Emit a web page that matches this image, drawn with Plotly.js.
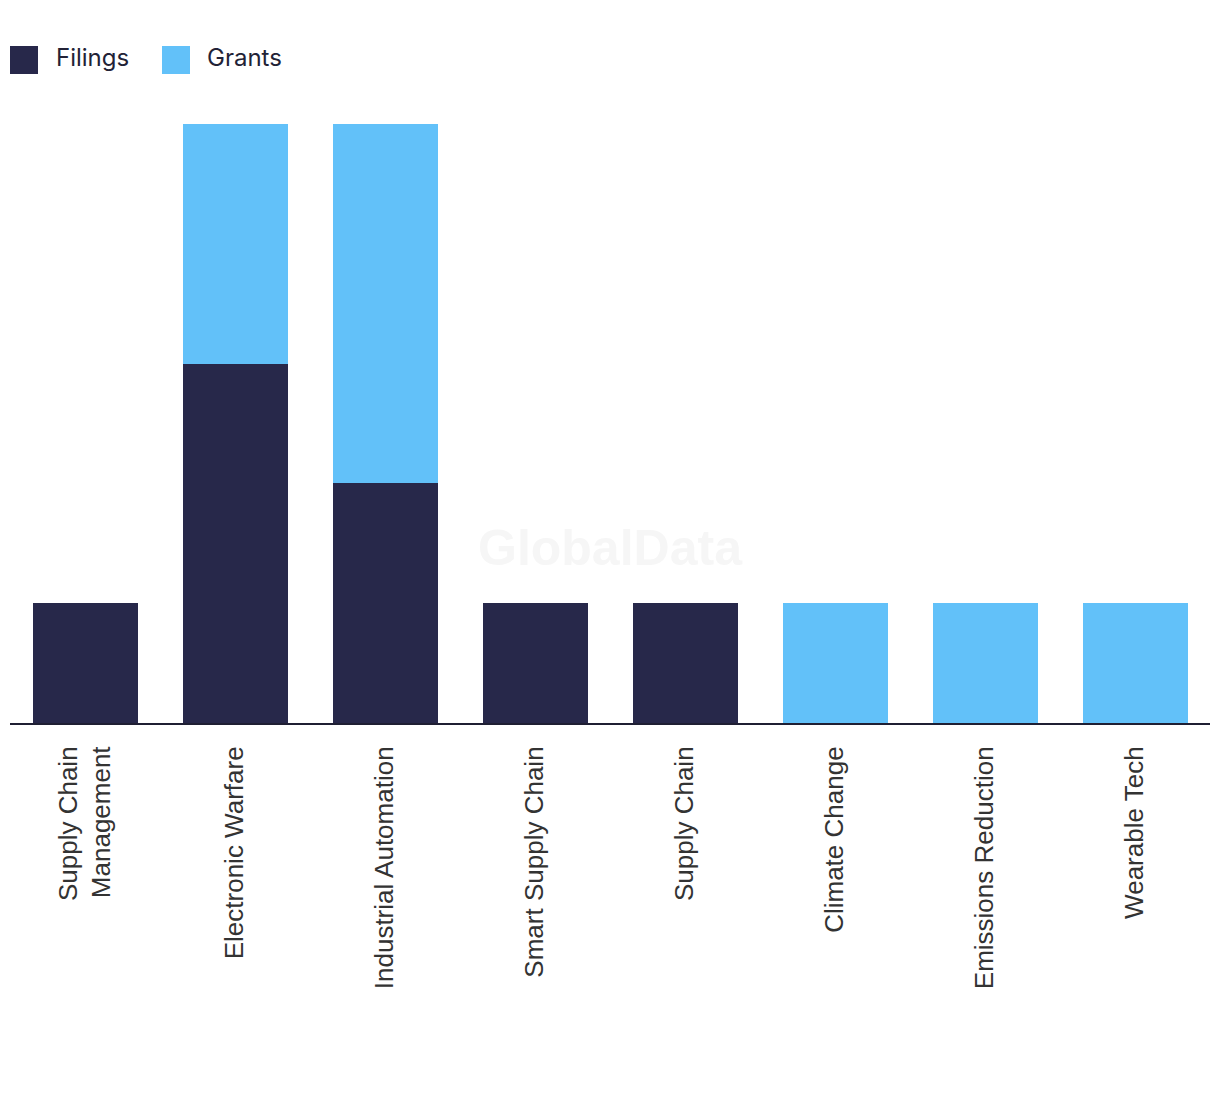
<!DOCTYPE html>
<html><head><meta charset="utf-8">
<script src="https://cdn.plot.ly/plotly-3.0.1.min.js"></script>
<style>body{margin:0;background:#fff}#chart{width:1220px;height:1094px}</style>
</head><body><div id="chart"></div>
<script>
const categories = ["Supply Chain<br>Management","Electronic Warfare","Industrial Automation","Smart Supply Chain","Supply Chain","Climate Change","Emissions Reduction","Wearable Tech"];
const filings = [1,3,2,1,1,0,0,0];
const grants = [0,2,3,0,0,1,1,1];
const seriesNames = ["Filings","Grants"];
const colors = ["#27284a","#62c1f9"];

const traces = [
  {type:"bar", name:seriesNames[0], x:categories, y:filings, marker:{color:colors[0]}, showlegend:false},
  {type:"bar", name:seriesNames[1], x:categories, y:grants, marker:{color:colors[1]}, showlegend:false}
];

const PH = 599, PW = 1200, BASE = 723;
const py = v => (BASE - v) / PH;
const legendShapes = [
  {type:"rect", xref:"paper", yref:"paper", x0:0, x1:28/PW, y0:py(46), y1:py(74), fillcolor:colors[0], line:{width:0}},
  {type:"rect", xref:"paper", yref:"paper", x0:152/PW, x1:180/PW, y0:py(46), y1:py(74), fillcolor:colors[1], line:{width:0}}
];

const layout = {
  width:1220, height:1094,
  margin:{l:10, r:10, t:124, b:371},
  paper_bgcolor:"#fff", plot_bgcolor:"#fff",
  barmode:"stack", bargap:0.3,
  showlegend:false,
  xaxis:{tickangle:-90, showgrid:false, zeroline:false, showline:true, linecolor:"#1f1f33", linewidth:2,
    ticks:"outside", ticklen:11, tickcolor:"rgba(0,0,0,0)",
    tickfont:{family:"Liberation Sans, Arial, sans-serif", size:26, color:"#333"}, automargin:false},
  yaxis:{range:[0,5], visible:false, showgrid:false, zeroline:false, fixedrange:true},
  shapes: legendShapes,
  annotations:[
    {text:"GlobalData", xref:"paper", yref:"paper", x:0.5, y:py(548), xanchor:"center", yanchor:"middle", showarrow:false,
      font:{family:"Liberation Sans, Arial, sans-serif", size:50, color:"#f6f6f6", weight:700}},
    {text:seriesNames[0], xref:"paper", yref:"paper", x:44/PW, y:py(57), xanchor:"left", yanchor:"middle", showarrow:false,
      font:{family:"Inter, sans-serif", size:24, color:"#222236"}},
    {text:seriesNames[1], xref:"paper", yref:"paper", x:195/PW, y:py(57), xanchor:"left", yanchor:"middle", showarrow:false,
      font:{family:"Inter, sans-serif", size:24, color:"#222236"}}
  ]
};
Plotly.newPlot("chart", traces, layout, {displayModeBar:false, staticPlot:true});
</script></body></html>
